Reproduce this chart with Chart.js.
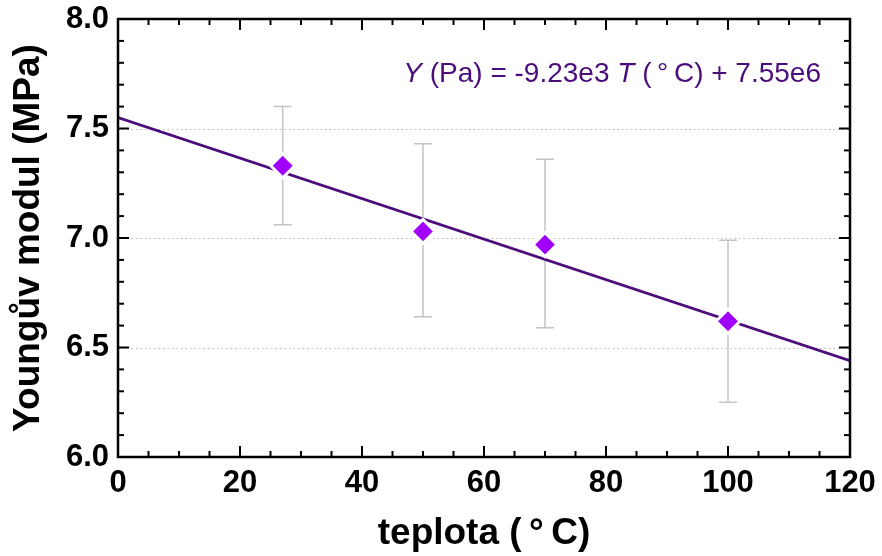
<!DOCTYPE html>
<html>
<head>
<meta charset="utf-8">
<script src="https://cdn.jsdelivr.net/npm/chart.js@4"></script>
<style>
  html, body { margin: 0; padding: 0; background: #fff; }
  #wrap { width: 882px; height: 556px; }
</style>
</head>
<body>
<div id="wrap"><canvas id="chart"></canvas></div>
<script>
// measured points: temperature (°C) and Young's modulus (MPa) with error range
const teplota = [27, 50, 70, 100];
const modul = [7.33, 7.03, 6.97, 6.62];
const modulMin = [7.06, 6.64, 6.59, 6.25];
const modulMax = [7.60, 7.43, 7.36, 6.99];

// linear fit  Y(Pa) = -9.23e3 T + 7.55e6
const fitT = [0, 120];
const fitY = [7.55, 6.44];
const fitLabel = ['Y', ' (Pa) = -9.23e3 ', 'T', ' (\u2009°\u2009C) + 7.55e6'];

const xTicks = [0, 20, 40, 60, 80, 100, 120];
const yTicks = [6.0, 6.5, 7.0, 7.5, 8.0];

const FONT = '"Liberation Sans", Arial, sans-serif';
const PURPLE = '#a100ff';
const DARK = '#4b0d7c';

// error bars, dotted grid, frame, inside ticks and the fit equation
const decor = {
  id: 'decor',
  beforeDatasetsDraw(chart) {
    const { ctx, chartArea: a, scales: { x, y } } = chart;
    ctx.save();
    // dotted horizontal grid
    ctx.strokeStyle = '#b5b5b5';
    ctx.lineWidth = 1.2;
    ctx.setLineDash([1.5, 3]);
    yTicks.forEach(v => {
      if (v <= y.min || v >= y.max) return;
      const py = Math.round(y.getPixelForValue(v)) + 0.5;
      ctx.beginPath();
      ctx.moveTo(a.left, py);
      ctx.lineTo(a.right, py);
      ctx.stroke();
    });
    ctx.setLineDash([]);
    // error bars
    ctx.strokeStyle = '#c4c4c4';
    ctx.lineWidth = 1.5;
    teplota.forEach((t, i) => {
      const px = x.getPixelForValue(t);
      const y1 = y.getPixelForValue(modulMin[i]);
      const y2 = y.getPixelForValue(modulMax[i]);
      ctx.beginPath();
      ctx.moveTo(px, y1); ctx.lineTo(px, y2);
      ctx.moveTo(px - 9, y1); ctx.lineTo(px + 9, y1);
      ctx.moveTo(px - 9, y2); ctx.lineTo(px + 9, y2);
      ctx.stroke();
    });
    ctx.restore();
  },
  afterDraw(chart) {
    const { ctx, chartArea: a, scales: { x, y } } = chart;
    ctx.save();
    ctx.strokeStyle = '#000';
    ctx.lineWidth = 2;
    // ticks pointing inward on all four sides
    const tick = (px, py, dx, dy) => {
      ctx.beginPath(); ctx.moveTo(px, py); ctx.lineTo(px + dx, py + dy); ctx.stroke();
    };
    for (let v = x.min; v <= x.max + 1e-9; v += 5) {
      const px = x.getPixelForValue(v);
      const len = v % 20 === 0 ? 11 : 6;
      tick(px, a.bottom, 0, -len);
      tick(px, a.top, 0, len);
    }
    for (let k = 0; k <= 20; k++) {
      const v = y.min + k * 0.1;
      const py = y.getPixelForValue(v);
      const len = k % 5 === 0 ? 11 : 6;
      tick(a.left, py, len, 0);
      tick(a.right, py, -len, 0);
    }
    // frame
    ctx.lineWidth = 2.5;
    ctx.strokeRect(a.left, a.top, a.right - a.left, a.bottom - a.top);

    // fit equation
    ctx.fillStyle = DARK;
    ctx.textBaseline = 'alphabetic';
    const fonts = fitLabel.map((s, i) => (i % 2 === 0 ? 'italic ' : '') + '28px ' + FONT);
    let w = 0;
    fitLabel.forEach((s, i) => { ctx.font = fonts[i]; w += ctx.measureText(s).width; });
    let cx = 821 - w;
    fitLabel.forEach((s, i) => {
      ctx.font = fonts[i];
      ctx.fillText(s, cx, 82);
      cx += ctx.measureText(s).width;
    });
    ctx.restore();
  }
};

new Chart(document.getElementById('chart'), {
  type: 'scatter',
  data: {
    datasets: [
      {
        label: 'Youngův modul',
        data: teplota.map((t, i) => ({ x: t, y: modul[i] })),
        pointStyle: 'rectRot',
        pointRadius: 12,
        pointHoverRadius: 12,
        backgroundColor: PURPLE,
        borderColor: '#fff',
        borderWidth: 3
      },
      {
        label: 'fit',
        type: 'line',
        data: fitT.map((t, i) => ({ x: t, y: fitY[i] })),
        borderColor: DARK,
        borderWidth: 2.8,
        pointRadius: 0,
        fill: false
      }
    ]
  },
  options: {
    responsive: true,
    maintainAspectRatio: false,
    animation: false,
    layout: { padding: { left: 0, right: 32, top: 19, bottom: 0 } },
    plugins: { legend: { display: false }, tooltip: { enabled: false } },
    scales: {
      x: {
        type: 'linear',
        min: 0, max: 120,
        afterBuildTicks: s => { s.ticks = xTicks.map(v => ({ value: v })); },
        afterFit: s => { s.height = 99; s.paddingLeft = 0; s.paddingRight = 0; },
        grid: { display: false, drawTicks: false },
        border: { display: false },
        ticks: {
          padding: 8,
          color: '#000',
          maxRotation: 0,
          font: { family: FONT, size: 31, weight: 'bold' }
        },
        title: {
          display: true,
          text: 'teplota (\u2009°\u2009C)',
          color: '#000',
          padding: 0,
          font: { family: FONT, size: 37, weight: 'bold' }
        }
      },
      y: {
        type: 'linear',
        min: 6, max: 8,
        afterBuildTicks: s => { s.ticks = yTicks.map(v => ({ value: v })); },
        afterFit: s => { s.width = 118; s.paddingTop = 0; s.paddingBottom = 0; },
        grid: { display: false, drawTicks: false },
        border: { display: false },
        ticks: {
          padding: 9,
          color: '#000',
          callback: v => Number(v).toFixed(1),
          font: { family: FONT, size: 31, weight: 'bold' }
        },
        title: {
          display: true,
          text: 'Youngův modul (MPa)',
          color: '#000',
          padding: { top: 7, bottom: 0 },
          font: { family: FONT, size: 37, weight: 'bold' }
        }
      }
    }
  },
  plugins: [decor]
});
</script>
</body>
</html>
